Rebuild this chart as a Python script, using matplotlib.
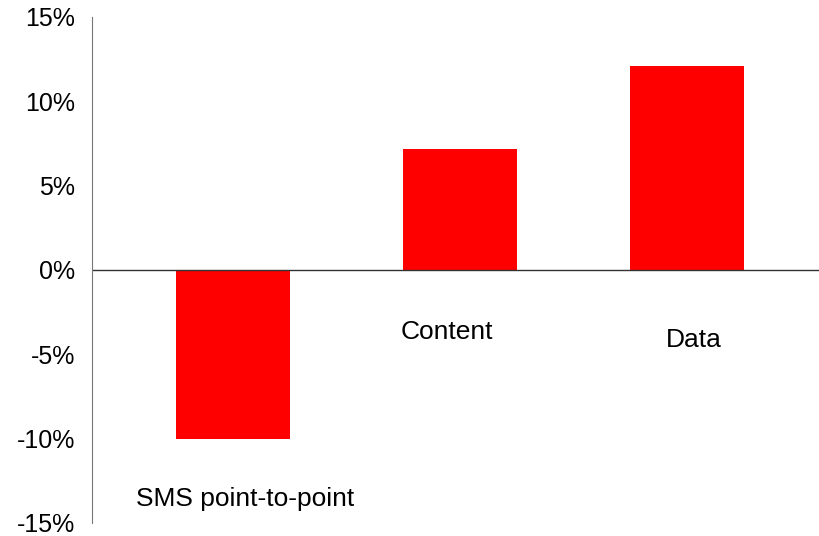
import matplotlib.pyplot as plt
from matplotlib.ticker import FuncFormatter

plt.rcParams['font.family'] = ['Liberation Sans', 'DejaVu Sans']

# data
categories = ['SMS point-to-point', 'Content', 'Data']
growth = [-10.0, 7.2, 12.1]
yticks = [-15, -10, -5, 0, 5, 10, 15]

fig = plt.figure(figsize=(8.2, 5.36), dpi=100)
ax = fig.add_axes([0.1122, 0.0243, 0.8878, 0.944])

x = list(range(len(categories)))
ax.bar(x, growth, width=0.502, color='#ff0000')
ax.axhline(0, color='#333333', lw=1)

ax.set_ylim(-15, 15)
ax.set_xlim(-0.623, 2.584)
ax.set_yticks(yticks)
ax.yaxis.set_major_formatter(FuncFormatter(lambda v, p: f'{v:.0f}%'))
ax.tick_params(axis='y', length=0, pad=12, labelsize=18)
ax.set_xticks([])

for s in ['top', 'right', 'bottom']:
    ax.spines[s].set_visible(False)
ax.spines['left'].set_color('#777777')

# category labels sit below/next to the bars
label_pos = [(0.05, -13.6), (-0.06, -3.7), (0.03, -4.15)]
for i, name in enumerate(categories):
    dx, ly = label_pos[i]
    ax.text(i + dx, ly, name, ha='center', va='center', fontsize=19)

fig.savefig('out.png', dpi=100)
